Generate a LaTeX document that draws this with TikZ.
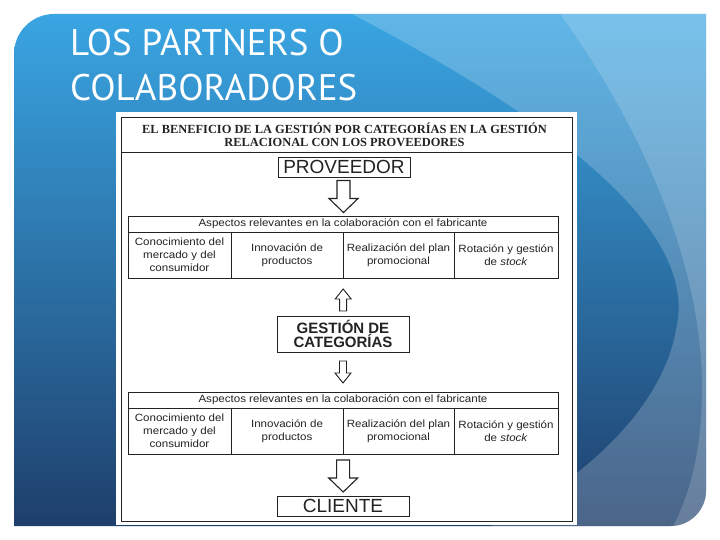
\documentclass[tikz,border=0pt]{standalone}
\usepackage{fontspec}
\setmainfont{Liberation Serif}
\setsansfont{Liberation Sans}
\newfontfamily\titlefont{PT Sans}
\newfontfamily\scanfont[FakeStretch=1.1]{Liberation Sans}
\usetikzlibrary{calc}
\definecolor{pTop}{RGB}{58,168,230}
\definecolor{pMid}{RGB}{40,118,185}
\definecolor{pBot}{RGB}{30,60,104}
\definecolor{ink}{RGB}{35,35,35}
\tikzset{
  scanline/.style={draw=ink, line width=0.7pt},
  cell/.style={scanline, rectangle, inner sep=0pt, align=center, text=ink,
     font=\scanfont\fontsize{10.5}{13}\selectfont},
  bigbox/.style={scanline, rectangle, inner sep=0pt, minimum width=132pt, text=ink},
  arrowline/.style={draw=ink, fill=white, line width=1.1pt, line join=miter},
  bigdown/.pic={\path[arrowline] (-6.5,-16) -- (6.5,-16) -- (6.5,2) -- (14.5,2) -- (0,16) -- (-14.5,2) -- (-6.5,2) -- cycle;},
  smalldown/.pic={\path[arrowline, line width=0.9pt] (-3.5,-11) -- (3.5,-11) -- (3.5,1) -- (8,1) -- (0,11) -- (-8,1) -- (-3.5,1) -- cycle;},
  smallup/.pic={\path[arrowline, line width=0.9pt] (-3.5,11) -- (3.5,11) -- (3.5,-1) -- (8,-1) -- (0,-11) -- (-8,-1) -- (-3.5,-1) -- cycle;}
}
\begin{document}
\begin{tikzpicture}[x=1pt,y=-1pt]
\useasboundingbox (0,0) rectangle (720,540);
\fill[white] (0,0) rectangle (720,540);
% blue panel
\begin{scope}
\clip (14,526) -- (14,54) .. controls (14,32) and (32,14) .. (54,14) -- (706,14) -- (706,491) .. controls (706,510) and (690,526) .. (671,526) -- cycle;
\shade[top color=pTop, middle color=pMid, bottom color=pBot] (0,0) rectangle (720,540);
\fill[white, opacity=0.2] (325,0) -- (720,0) -- (720,540) -- (460,540) .. controls (560,500) and (660,420) .. (676,330) .. controls (700,230) and (560,120) .. (325,0) -- cycle;
\fill[white, opacity=0.16] (550,0) -- (720,0) -- (720,540) -- (665,540) .. controls (690,500) and (703,450) .. (702,380) .. controls (700,260) and (640,120) .. (550,0) -- cycle;
\end{scope}
% title
\node[anchor=base west, inner sep=0pt, text=white, font=\titlefont\fontsize{37}{45}\selectfont] (title1) at (70,56) {LOS PARTNERS O};
\node[anchor=base west, inner sep=0pt, text=white, font=\titlefont\fontsize{37}{45}\selectfont] (title2) at (70,101) {COLABORADORES};
% scanned figure
\fill[white] (116,112) rectangle (577,525);
\draw[scanline] (121,117) rectangle (572,521);
\draw[scanline] (121,152) -- (572,152);
\node[align=center, text=ink, inner sep=0pt, font=\rmfamily\bfseries\fontsize{12.4}{13}\selectfont] (hdr) at (344.5,135)
  {EL BENEFICIO DE LA GESTIÓN POR CATEGORÍAS EN LA GESTIÓN\\RELACIONAL CON LOS PROVEEDORES};
\node[bigbox, minimum height=20pt, font=\sffamily\fontsize{19}{20}\selectfont] (prov) at (344,167) {PROVEEDOR};
% table 1
\node[cell, minimum width=430pt, minimum height=16pt] (asp1) at (343,224) {Aspectos relevantes en la colaboración con el fabricante};
\node[cell, minimum width=103pt, minimum height=46pt] (c11) at (179.5,255) {Conocimiento del\\mercado y del\\consumidor};
\node[cell, minimum width=112pt, minimum height=46pt] (c12) at (287,255) {Innovación de\\productos};
\node[cell, minimum width=111pt, minimum height=46pt] (c13) at (398.5,255) {Realización del plan\\promocional};
\node[cell, minimum width=104pt, minimum height=46pt] (c14) at (506,255) {Rotación y gestión\\de \textit{stock}};
% gestion
\node[bigbox, minimum height=36pt, align=center, font=\sffamily\bfseries\fontsize{15}{13.5}\selectfont] (gest) at (343,334) {GESTIÓN DE\\CATEGORÍAS};
% table 2
\node[cell, minimum width=430pt, minimum height=16pt] (asp2) at (343,400) {Aspectos relevantes en la colaboración con el fabricante};
\node[cell, minimum width=103pt, minimum height=46pt] (c21) at (179.5,431) {Conocimiento del\\mercado y del\\consumidor};
\node[cell, minimum width=112pt, minimum height=46pt] (c22) at (287,431) {Innovación de\\productos};
\node[cell, minimum width=111pt, minimum height=46pt] (c23) at (398.5,431) {Realización del plan\\promocional};
\node[cell, minimum width=104pt, minimum height=46pt] (c24) at (506,431) {Rotación y gestión\\de \textit{stock}};
\node[bigbox, minimum height=20pt, font=\sffamily\fontsize{19}{20}\selectfont] (cli) at (343,506) {CLIENTE};
% block arrows
\path ($(prov.south)!0.5!(asp1.north)$) pic {bigdown};
\path ($(c12.south east)!0.5!(gest.north)$) ++(0,3) pic {smallup};
\path ($(gest.south)!0.5!(asp2.north)$) pic {smalldown};
\path ($(c22.south east)!0.5!(cli.north)$) ++(0,1) pic {bigdown};
\end{tikzpicture}
\end{document}
